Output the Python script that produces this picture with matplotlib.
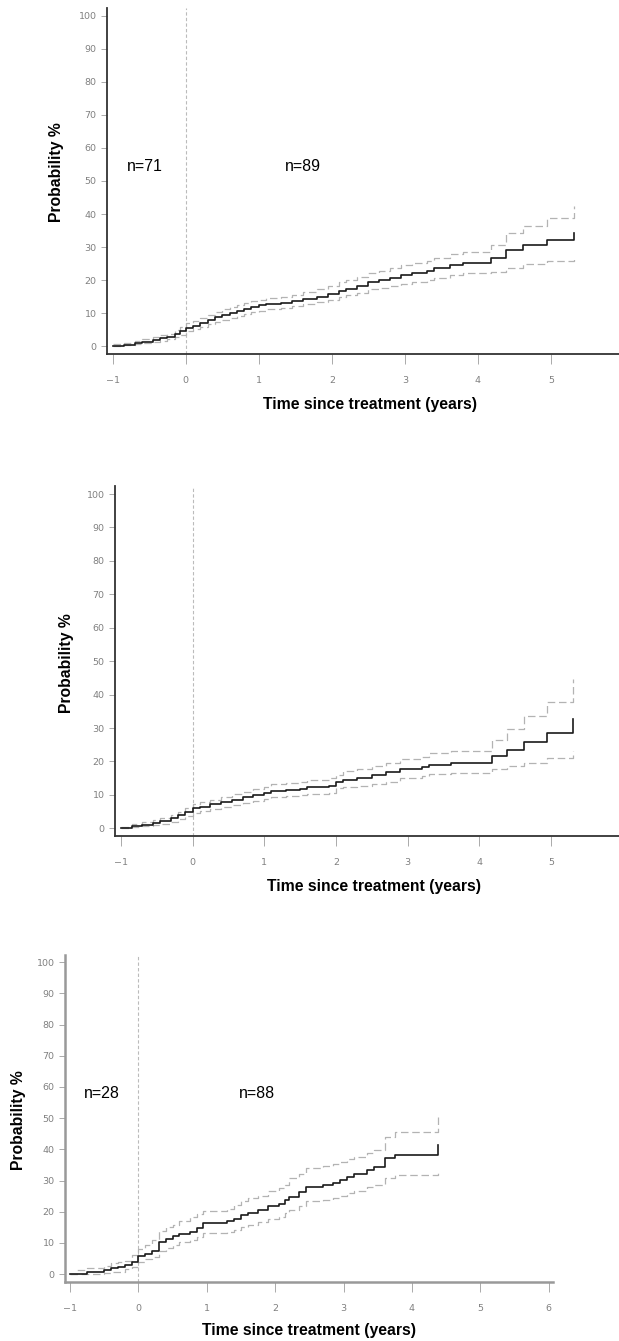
import numpy as np
import matplotlib.pyplot as plt

# panel 1
t1 = [-1.0, -0.85, -0.7, -0.6, -0.45, -0.35, -0.25, -0.15, -0.08, 0.0,
      0.1, 0.2, 0.3, 0.4, 0.5, 0.6, 0.7, 0.8, 0.9, 1.0,
      1.1, 1.3, 1.45, 1.6, 1.8, 1.95, 2.1, 2.2, 2.35, 2.5,
      2.65, 2.8, 2.95, 3.1, 3.3, 3.4, 3.62, 3.8, 4.18, 4.38,
      4.62, 4.95, 5.32]
est1 = [0.0, 0.4, 0.8, 1.2, 1.7, 2.4, 2.8, 3.8, 4.5, 5.6,
        6.2, 7.0, 8.0, 8.7, 9.4, 10.0, 10.6, 11.2, 11.8, 12.3,
        12.8, 13.1, 13.7, 14.4, 15.0, 15.8, 16.8, 17.4, 18.3, 19.5,
        20.0, 20.6, 21.4, 22.0, 22.6, 23.5, 24.6, 25.2, 26.6, 29.0,
        30.5, 32.1, 34.3]
hi1 = [0.5, 1.0, 1.6, 2.0, 2.6, 3.4, 3.8, 5.0, 5.8, 6.9,
       7.6, 8.5, 9.5, 10.3, 11.3, 11.8, 12.4, 13.0, 13.6, 14.1,
       14.6, 15.0, 15.6, 16.5, 17.2, 18.1, 19.3, 20.0, 21.0, 22.2,
       22.8, 23.6, 24.5, 25.1, 25.7, 26.6, 27.8, 28.6, 30.6, 34.2,
       36.3, 38.8, 42.3]
lo1 = [0.0, 0.2, 0.5, 0.8, 1.1, 1.6, 2.0, 2.8, 3.4, 4.6,
       5.1, 5.8, 6.7, 7.3, 7.9, 8.5, 9.1, 9.6, 10.2, 10.7,
       11.2, 11.5, 12.0, 12.6, 13.2, 13.9, 14.8, 15.4, 16.2, 17.2,
       17.6, 18.2, 18.9, 19.4, 19.9, 20.7, 21.6, 22.0, 22.5, 23.8,
       25.0, 25.8, 26.8]

# panel 2
t2 = [-1.0, -0.85, -0.7, -0.55, -0.45, -0.3, -0.2, -0.1, 0.0, 0.1,
      0.25, 0.4, 0.55, 0.7, 0.85, 1.0, 1.1, 1.3, 1.5, 1.6,
      1.9, 2.0, 2.1, 2.3, 2.5, 2.7, 2.9, 3.2, 3.3, 3.6,
      4.18, 4.38, 4.62, 4.95, 5.3]
est2 = [0.0, 0.6, 1.1, 1.6, 2.2, 3.0, 4.0, 5.0, 6.0, 6.5,
        7.2, 7.8, 8.6, 9.3, 10.0, 10.6, 11.2, 11.4, 11.8, 12.4,
        12.8, 13.8, 14.4, 15.0, 16.0, 16.8, 17.7, 18.2, 19.0, 19.4,
        21.7, 23.5, 25.8, 28.5, 32.8]
hi2 = [0.5, 1.2, 1.8, 2.4, 3.0, 4.0, 5.0, 6.0, 7.3, 7.9,
       8.6, 9.4, 10.3, 11.0, 11.7, 12.5, 13.3, 13.5, 14.0, 14.6,
       15.0, 16.0, 17.0, 17.7, 18.5, 19.6, 20.8, 21.2, 22.5, 23.0,
       26.4, 29.6, 33.5, 37.8, 44.8]
lo2 = [0.0, 0.3, 0.6, 1.0, 1.4, 2.0, 2.8, 3.8, 4.7, 5.1,
       5.7, 6.3, 7.0, 7.6, 8.2, 8.8, 9.5, 9.7, 10.0, 10.3,
       10.5, 12.0, 12.4, 12.8, 13.3, 14.0, 15.0, 15.5, 16.2, 16.5,
       17.8, 18.5, 19.5, 21.0, 23.0]

# panel 3
t3 = [-1.0, -0.9, -0.75, -0.5, -0.4, -0.3, -0.2, -0.1, 0.0, 0.1,
      0.2, 0.3, 0.4, 0.5, 0.6, 0.75, 0.85, 0.95, 1.3, 1.4,
      1.5, 1.6, 1.75, 1.9, 2.05, 2.15, 2.2, 2.35, 2.45, 2.7,
      2.85, 2.95, 3.05, 3.15, 3.35, 3.45, 3.6, 3.75, 4.38]
est3 = [0.0, 0.0, 0.7, 1.3, 2.0, 2.3, 3.0, 4.0, 5.7, 6.5,
        7.3, 10.2, 11.2, 12.1, 13.0, 13.6, 14.8, 16.5, 17.0, 17.8,
        19.0, 19.7, 20.6, 21.7, 22.5, 23.8, 24.8, 26.2, 28.0, 28.6,
        29.3, 30.2, 31.2, 32.0, 33.3, 34.2, 37.1, 38.2, 41.3]
hi3 = [0.0, 1.3, 2.0, 2.5, 3.7, 3.9, 4.3, 6.0, 8.0, 9.5,
       11.0, 13.8, 15.0, 15.8, 17.0, 18.3, 19.2, 20.2, 21.0, 22.2,
       23.6, 24.3, 25.2, 26.7, 27.5, 28.5, 30.7, 32.0, 34.0, 34.6,
       35.2, 36.0, 36.8, 37.6, 38.8, 39.8, 44.0, 45.5, 51.0]
lo3 = [0.0, 0.0, 0.0, 0.3, 0.6, 0.8, 1.6, 2.3, 3.9, 4.8,
       5.5, 7.5, 8.5, 9.5, 10.2, 11.0, 12.0, 13.2, 13.6, 14.2,
       15.2, 15.8, 16.6, 17.6, 18.4, 19.6, 20.5, 21.8, 23.4, 23.9,
       24.4, 25.2, 26.0, 26.6, 27.8, 28.6, 30.8, 31.7, 33.3]

yticks = [0, 10, 20, 30, 40, 50, 60, 70, 80, 90, 100]
xlabel = 'Time since treatment (years)'
ylabel = 'Probability %'

W, H = 619, 1341
fig = plt.figure(figsize=(W / 100, H / 100), dpi=100)


def px_axes(left, top, right, bottom):
    return fig.add_axes([left / W, 1 - bottom / H, (right - left) / W, (bottom - top) / H])


def panel(ax, t, est, lo, hi, xlim, ylim, xticks, spine_col, spine_lw, labels):
    ax.axvline(0, color='#bbbbbb', lw=0.8, ls=(0, (3, 2)), zorder=1)
    ax.step(t, hi, where='post', color='#b3b3b3', lw=0.9, ls=(0, (6, 3)))
    ax.step(t, lo, where='post', color='#b3b3b3', lw=0.9, ls=(0, (6, 3)))
    ax.step(t, est, where='post', color='#1a1a1a', lw=1.2)
    ax.set_xlim(*xlim)
    ax.set_ylim(*ylim)
    ax.set_xticks(xticks)
    ax.set_xticklabels([str(v).replace('-', '\u2212') for v in xticks])
    ax.set_yticks(yticks)
    for s in ['top', 'right']:
        ax.spines[s].set_visible(False)
    for s in ['left', 'bottom']:
        ax.spines[s].set_color(spine_col)
        ax.spines[s].set_linewidth(spine_lw)
    ax.tick_params(axis='y', length=4.5, width=0.7, color='#aaaaaa', pad=3,
                   labelsize=6.8, labelcolor='#808080')
    ax.tick_params(axis='x', length=7, width=0.7, color='#aaaaaa', pad=9,
                   labelsize=6.8, labelcolor='#808080')
    for lab in ax.get_xticklabels() + ax.get_yticklabels():
        lab.set_family('DejaVu Sans')
    for x, y, s in labels:
        ax.text(x, y, s, fontsize=11.5, ha='center', va='center', family='Liberation Sans')


ax1 = px_axes(107, 8, 619, 354)
panel(ax1, t1, est1, lo1, hi1, (-1.078, 5.931), (-2.4, 102.4), [-1, 0, 1, 2, 3, 4, 5],
      '#333333', 1.3, [(-0.56, 54.5, 'n=71'), (1.6, 54.5, 'n=89')])

ax2 = px_axes(115, 486, 619, 836)
panel(ax2, t2, est2, lo2, hi2, (-1.081, 5.948), (-2.3, 102.4), [-1, 0, 1, 2, 3, 4, 5],
      '#333333', 1.3, [])

ax3 = px_axes(65, 955, 553, 1282)
panel(ax3, t3, est3, lo3, hi3, (-1.073, 6.063), (-2.5, 102.3), [-1, 0, 1, 2, 3, 4, 5, 6],
      '#999999', 1.8, [(-0.53, 57.8, 'n=28'), (1.73, 57.8, 'n=88')])

lab_kw = dict(fontsize=11.3, fontweight='bold', family='Liberation Sans', ha='center', va='center')
fig.text(370 / W, 1 - 405 / H, xlabel, **lab_kw)
fig.text(56 / W, 1 - 172 / H, ylabel, rotation=90, **lab_kw)
fig.text(374 / W, 1 - 887 / H, xlabel, **lab_kw)
fig.text(67 / W, 1 - 663 / H, ylabel, rotation=90, **lab_kw)
fig.text(309 / W, 1 - 1330 / H, xlabel, **lab_kw)
fig.text(19 / W, 1 - 1120 / H, ylabel, rotation=90, **lab_kw)

fig.savefig('out.png', dpi=100)
